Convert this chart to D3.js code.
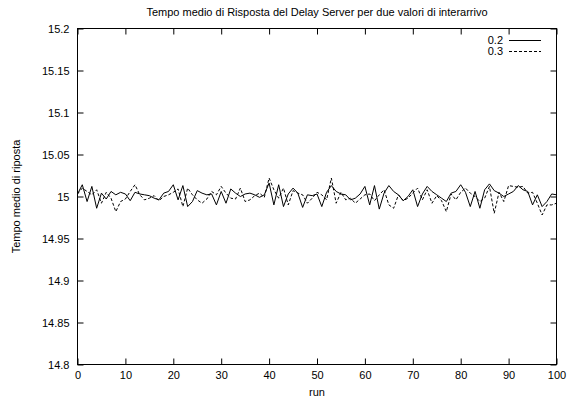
<!DOCTYPE html>
<html>
<head>
<meta charset="utf-8">
<script src="https://cdn.jsdelivr.net/npm/d3@7"></script>
<style>
  html, body { margin: 0; padding: 0; background: #fff; }
  svg { display: block; }
  text { font-family: "Liberation Sans", Arial, sans-serif; font-size: 11px; fill: #000; }
</style>
</head>
<body>
<svg id="chart" width="574" height="398"></svg>
<script>
// ---- data ----
const runs = d3.range(0, 101);
const series02 = [15.003,15.014,14.994,15.012,14.986,15.004,14.997,15.006,15.002,15.005,
  15.003,14.995,15.005,15.003,15.002,15.001,14.998,14.996,15.004,15.006,
  15.014,14.996,15.013,14.988,14.994,15.007,15.004,15.002,15.003,14.990,
  15.006,14.992,15.009,15.004,15.000,15.003,15.004,15.002,14.999,15.002,
  15.016,14.990,15.014,14.988,15.003,15.010,15.004,14.987,15.002,15.001,
  15.003,14.988,15.005,15.013,15.006,15.003,15.002,14.996,14.998,15.003,
  15.012,14.990,15.013,14.985,15.004,15.013,15.006,15.002,14.995,15.000,
  15.008,14.988,15.003,15.012,15.006,15.002,14.998,14.994,15.004,15.006,
  15.014,15.005,14.988,15.006,14.986,15.008,15.015,15.007,15.004,15.000,
  15.003,15.006,15.013,15.008,15.006,14.990,15.002,14.988,14.994,15.003,15.002];
const series03 = [15.003,15.010,15.006,15.002,15.008,14.992,15.005,14.998,14.982,14.994,
  14.997,15.006,15.014,15.002,14.996,14.998,15.001,14.995,15.000,15.002,
  15.005,15.009,14.988,15.010,15.002,14.996,14.992,14.997,15.006,15.002,
  15.012,15.004,14.998,14.997,15.010,14.994,14.996,15.001,15.004,14.999,
  15.022,15.008,14.998,15.010,14.990,15.007,15.004,15.002,14.992,14.998,
  15.005,15.002,14.996,15.022,14.992,15.005,14.996,14.998,14.992,14.997,
  15.002,15.003,14.995,15.002,15.008,14.990,14.986,15.002,14.995,14.998,
  15.004,15.010,14.996,15.008,14.992,15.001,14.995,14.982,15.003,14.996,
  15.005,15.010,15.004,15.000,14.994,14.998,15.012,14.980,15.005,14.994,
  15.013,15.012,15.011,15.012,15.004,15.005,14.992,14.978,14.990,14.990,14.992];
const xTicks = d3.range(0, 101, 10);
const yTicks = [14.8, 14.85, 14.9, 14.95, 15, 15.05, 15.1, 15.15, 15.2];
const seriesNames = ["0.2", "0.3"];

// ---- layout ----
const svg = d3.select("#chart");
const L = 77.5, R = 556.5, T = 28.5, B = 364.5;
const x = d3.scaleLinear().domain([0, 100]).range([L, R]);
const y = d3.scaleLinear().domain([14.8, 15.2]).range([B, T]);
const tickLen = 6;

// bottom axis (inner ticks)
const gx = svg.append("g").attr("transform", `translate(0,${B})`)
  .call(d3.axisBottom(x).tickValues(xTicks).tickFormat(d3.format("d")).tickSizeInner(-tickLen).tickSizeOuter(0).tickPadding(7));
// top mirror ticks
const gxt = svg.append("g").attr("transform", `translate(0,${T})`)
  .call(d3.axisTop(x).tickValues(xTicks).tickFormat("").tickSizeInner(-tickLen).tickSizeOuter(0));
// left axis
const gy = svg.append("g").attr("transform", `translate(${L},0)`)
  .call(d3.axisLeft(y).tickValues(yTicks).tickFormat(d => String(+d.toFixed(2))).tickSizeInner(-tickLen).tickSizeOuter(0).tickPadding(8));
// right mirror ticks
const gyr = svg.append("g").attr("transform", `translate(${R},0)`)
  .call(d3.axisRight(y).tickValues(yTicks).tickFormat("").tickSizeInner(-tickLen).tickSizeOuter(0));

[gx, gxt, gy, gyr].forEach(g => {
  g.select(".domain").remove();
  g.selectAll("line").attr("stroke", "#000").attr("stroke-width", 1);
  g.selectAll("text").attr("font-family", "Liberation Sans, Arial, sans-serif").attr("font-size", 11).attr("fill", "#000");
});

// border
svg.append("rect").attr("x", L).attr("y", T).attr("width", R - L).attr("height", B - T)
  .attr("fill", "none").attr("stroke", "#000").attr("stroke-width", 1);

// lines
const line = d3.line().x((d, i) => x(runs[i])).y(d => y(d));
svg.append("path").datum(series02).attr("d", line)
  .attr("fill", "none").attr("stroke", "#000").attr("stroke-width", 1);
svg.append("path").datum(series03).attr("d", line)
  .attr("fill", "none").attr("stroke", "#000").attr("stroke-width", 1).attr("stroke-dasharray", "3,2");

// legend
const leg = [{ y: 40, dash: null }, { y: 51, dash: "3,2" }];
leg.forEach((l, i) => {
  svg.append("text").attr("x", 503).attr("y", l.y + 4).attr("text-anchor", "end").text(seriesNames[i]);
  const ln = svg.append("line").attr("x1", 509).attr("x2", 541).attr("y1", l.y + 0.5).attr("y2", l.y + 0.5)
    .attr("stroke", "#000").attr("stroke-width", 1);
  if (l.dash) ln.attr("stroke-dasharray", l.dash);
});

// titles
svg.append("text").attr("x", 317).attr("y", 16).attr("text-anchor", "middle")
  .text("Tempo medio di Risposta del Delay Server per due valori di interarrivo");
svg.append("text").attr("x", 317).attr("y", 396).attr("text-anchor", "middle").text("run");
svg.append("text").attr("transform", `translate(20,${(T + B) / 2}) rotate(-90)`)
  .attr("text-anchor", "middle").text("Tempo medio di riposta");
</script>
</body>
</html>
